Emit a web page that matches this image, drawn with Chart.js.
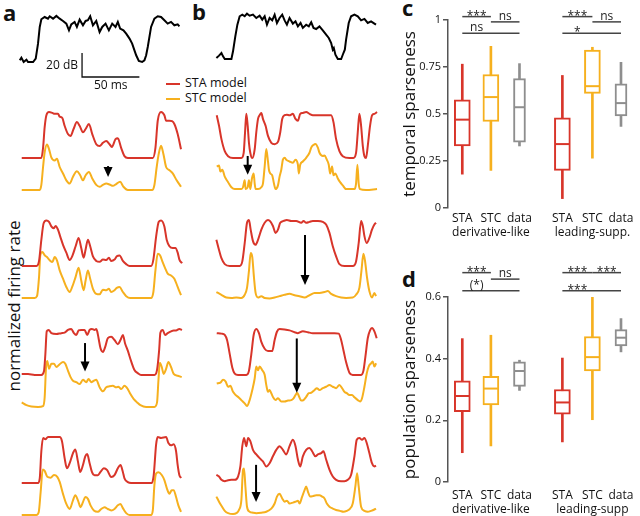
<!DOCTYPE html>
<html>
<head>
<meta charset="utf-8">
<script src="https://cdn.jsdelivr.net/npm/chart.js@4.4.1/dist/chart.umd.min.js"></script>
<style>
  body { margin: 0; background: #fff; }
  #fig { position: relative; width: 640px; height: 516px; overflow: hidden; font-family: 'Open Sans', sans-serif; color: #111; }
  #fig canvas { position: absolute; }
  .panel { position: absolute; font-weight: bold; font-size: 22px; line-height: 1; }
  .leg { position: absolute; font-size: 12.5px; line-height: 14px; }
  .leg span { display: inline-block; width: 14px; height: 2px; vertical-align: middle; margin-right: 5px; }
  .ylab { position: absolute; width: 200px; height: 24px; line-height: 24px; text-align: center; font-size: 17px; transform: rotate(-90deg); }
</style>
</head>
<body>
<div id="fig">
  <div class="panel" style="left:3px;top:1px">a</div>
  <div class="panel" style="left:192px;top:0px">b</div>
  <div class="panel" style="left:402px;top:-4px">c</div>
  <div class="panel" style="left:402px;top:267px">d</div>
  <div class="leg" style="left:166px;top:76px"><span style="background:#d8352a"></span>STA model</div>
  <div class="leg" style="left:166px;top:91px"><span style="background:#f6b01e"></span>STC model</div>
  <div class="ylab" style="left:-86px;top:294px">normalized firing rate</div>
</div>
<script>
// stimulus envelopes, [time ms, level dB]
const stimA = [[-1.7,1.4],[-0.3,3.6],[1.7,0],[4.1,1.9],[5.5,0],[9.9,0],[12.2,2.8],[14.2,15.3],[15.7,29.2],[17.1,35.6],[20,37.5],[22.9,36.1],[24.4,38.1],[27.3,36.1],[30.2,38.4],[33.1,36.1],[36,34.2],[38.9,32],[41.2,26.4],[43.2,31.4],[46.1,33.4],[48.1,29.2],[50.5,35.3],[53.4,30.6],[55.7,34.2],[57.7,34.8],[59.7,38.1],[62.1,30.6],[65,34.2],[67.9,25],[70.2,29.2],[73.1,32],[76,26.4],[78.9,32],[81.8,29.2],[83.8,33.4],[85.8,27.8],[88.7,26.4],[91.1,23.6],[94,19.5],[96.3,15.3],[98.3,9.7],[99.8,5.6],[102.1,0.8],[105,0],[107,1.4],[108.5,5.6],[109.9,12.5],[112.8,29.2],[115.7,36.1],[118.6,38.1],[121.5,37.5],[124.4,34.8],[127.3,32],[130.2,33.4],[133.1,30.6],[136,31.4],[137.5,29.7]];
const stimB = [[-0.3,0.8],[2,2.8],[4.1,5],[5.5,2.2],[7,0],[12.8,0],[14.2,6.4],[16.2,18.9],[18,28.6],[20,35.6],[22.3,37],[24.4,35.6],[26.4,37.8],[28.7,36.1],[31.6,37],[34.5,34.2],[37.4,36.1],[39.7,32.8],[41.8,35.6],[43.8,28.6],[46.1,34.2],[48.4,32.2],[50.5,36.9],[52.5,30],[54.8,34.2],[57.1,36.9],[59.2,32.2],[61.2,28.6],[63.5,34.2],[66.4,29.5],[68.7,31.4],[70.8,27.2],[73.1,30],[75.1,25.9],[78,28.6],[80.3,27.2],[82.4,30.6],[84.4,25.9],[86.7,25],[89.6,27.2],[92.5,23.9],[95.4,20.3],[97.7,17.5],[99.8,13.3],[101.2,7.8],[102.1,9.2],[103.5,3.6],[105.6,0],[108.5,0],[110.5,5],[111.7,7.8],[112.8,16.1],[115.1,30],[117.2,35.6],[120.1,37],[123,35.6],[125.9,32.2],[128.8,33.4],[131.7,30],[134.6,31.4],[137.5,29.5],[138.9,28.6]];
const scaleBar = { ms: 50, db: 20, at: [52.6, -12.5] };

// normalized firing rates, [time ms, rate]; panel a
const aSta1 = [[0,0],[17.1,0],[18.6,0.22],[20,0.67],[21.5,0.93],[23.8,1],[26.7,0.98],[28.7,0.96],[31.6,0.96],[33.1,0.9],[35.4,0.87],[37.4,0.7],[40.3,0.52],[42.6,0.48],[45.2,0.63],[48.1,0.78],[50.5,0.7],[53.4,0.56],[55.7,0.63],[58.6,0.74],[61.5,0.52],[65,0.3],[67.9,0.26],[70.8,0.33],[73.7,0.37],[76.6,0.3],[78.6,0.24],[81.8,0.41],[83.8,0.43],[86.7,0.22],[89.6,0.04],[92.5,0],[114.3,0],[116.6,0.22],[118.6,0.81],[121.5,1],[124.4,0.93],[125.9,0.81],[128.8,0.81],[131.1,0.8],[133.1,0.74],[136,0.52],[138.9,0.19]];
const aStc1 = [[0,0],[15.7,0],[17.1,0.11],[18.6,0.5],[20,0.82],[22,0.99],[23.8,0.89],[25.8,0.71],[28.7,0.64],[30.7,0.68],[33.1,0.5],[36,0.36],[38.9,0.21],[41.8,0.14],[44.7,0.29],[48.1,0.41],[51,0.32],[53.4,0.21],[55.7,0.32],[58.6,0.39],[61.5,0.25],[65,0.11],[67.9,0.07],[70.8,0.11],[73.7,0.14],[76.6,0.12],[79.5,0.09],[82.4,0.13],[85.8,0.18],[88.7,0.07],[92.5,0],[113.7,0],[115.7,0.11],[117.7,0.5],[119.5,0.79],[121.5,0.96],[123.5,0.79],[125.9,0.5],[128.8,0.43],[131.7,0.36],[135.1,0.21],[138.9,0.07]];
const aSta2 = [[0,0],[12.8,0],[15.1,0.11],[17.1,0.57],[19.1,0.93],[21.5,0.99],[23.8,0.96],[25.8,0.86],[27.8,0.82],[29.6,0.87],[31.6,0.79],[33.6,0.64],[36,0.46],[38.9,0.29],[41.8,0.13],[44,0.21],[47,0.43],[49.6,0.61],[51.9,0.39],[54,0.18],[55.7,0.36],[57.7,0.57],[59.7,0.43],[62.1,0.21],[65,0.11],[67.9,0.09],[70.8,0.14],[73.7,0.13],[76,0.18],[78,0.11],[80.9,0.14],[82.9,0.21],[85.3,0.23],[88.2,0.11],[91.1,0.04],[94,0],[112.8,0],[114.8,0.14],[117.2,0.64],[119.5,0.96],[121.5,0.99],[124.4,0.86],[126.4,0.57],[128.8,0.43],[131.7,0.39],[134,0.39],[136,0.29],[137.5,0.14],[139.8,0.06]];
const aStc2 = [[0,0],[11.3,0],[13.3,0.04],[15.1,0.46],[16.2,0.93],[18,1],[20,0.93],[22,0.89],[24.4,0.82],[26.7,0.78],[28.7,0.89],[30.7,0.82],[33.1,0.6],[36,0.42],[38.9,0.24],[41.8,0.13],[44,0.24],[47,0.46],[49.6,0.66],[51.9,0.38],[54,0.17],[55.7,0.38],[57.7,0.6],[59.7,0.42],[62.1,0.2],[65,0.09],[67.9,0.08],[70.8,0.18],[73.7,0.17],[76,0.2],[78,0.13],[80.9,0.17],[82.9,0.22],[85.3,0.24],[88.2,0.13],[91.1,0.04],[94.5,0],[112.8,0],[114.8,0.13],[116.6,0.6],[118.6,0.96],[120.6,0.93],[122.9,0.78],[125.2,0.64],[127.3,0.53],[130.2,0.49],[133.1,0.42],[136,0.24],[138.9,0.06]];
const aSta3 = [[0,0.02],[5.5,0.02],[11.3,0],[17.1,0],[19.4,0.08],[20.6,0.45],[21.8,0.95],[23.5,0.98],[25.8,0.91],[30.2,0.89],[34.5,0.91],[37.4,0.92],[40.3,0.98],[43.2,1],[45.5,0.91],[47.6,0.87],[49.6,0.97],[51.9,0.98],[54.8,0.98],[57.1,0.87],[59.2,0.98],[61.2,1],[63.5,0.98],[65,1],[65.8,0.95],[67,0.8],[68.7,0.58],[70.8,0.5],[72.8,0.61],[75.1,0.8],[78,0.83],[80.9,0.76],[83.8,0.67],[86.1,0.76],[88.2,0.87],[90.2,0.68],[92.5,0.53],[95.4,0.3],[98.3,0.11],[101.2,0.04],[104.1,0],[115.7,0],[118,0.11],[119.8,0.53],[120.9,0.92],[123,0.98],[125,0.87],[127.3,0.91],[130.2,0.95],[132.5,0.97],[134.6,0.97],[137.5,1],[139.8,0.98]];
const aStc3 = [[0,0.1],[4.1,0.04],[8.4,0.01],[14.2,0],[18.6,0.02],[20,0.21],[21.2,0.87],[22.3,1],[23.8,0.83],[25.8,0.94],[28.1,0.94],[30.2,0.87],[33.1,0.93],[36,0.98],[38,0.94],[40.3,0.79],[42.6,0.65],[44.7,0.57],[47.6,0.54],[50.5,0.5],[53.4,0.59],[56.3,0.54],[58.3,0.61],[60.6,0.54],[62.9,0.57],[65,0.59],[67.9,0.43],[70.8,0.34],[73.7,0.43],[76.6,0.45],[79.5,0.46],[82.4,0.43],[84.4,0.44],[86.7,0.39],[89.6,0.46],[92.5,0.39],[94.8,0.28],[97.7,0.17],[100.6,0.1],[103.5,0.04],[108.5,0],[115.7,0],[118,0.1],[119.2,0.57],[120.4,0.96],[122.1,0.87],[123.8,0.72],[125.9,0.83],[127.9,0.98],[130.2,0.87],[132.5,0.72],[136,0.68],[139.5,0.65]];
const aSta4 = [[0,0],[14.2,0],[15.7,0.1],[17.1,0.69],[18.6,0.98],[20.6,0.95],[22.9,1],[27.3,1],[33.1,1],[35.1,0.91],[37.4,0.54],[39.4,0.32],[41.8,0.43],[44.7,0.65],[46.7,0.73],[49,0.47],[51,0.24],[53.4,0.39],[55.4,0.58],[57.1,0.63],[59.2,0.43],[61.2,0.24],[63.5,0.17],[66.4,0.17],[68.7,0.24],[71.6,0.32],[74.5,0.28],[78,0.13],[80.9,0.17],[83.8,0.32],[86.1,0.39],[88.2,0.24],[89.6,0.1],[92.5,0.02],[95.4,0],[113.4,0],[115.1,0.17],[117.2,0.84],[118.6,1],[121.5,0.98],[125.9,1],[127.9,0.87],[130.2,0.82],[132.5,0.84],[134.6,0.69],[136,0.39],[137.5,0.17],[139,0.11]];
const aStc4 = [[0,0],[12.8,0],[14.8,0.06],[16.5,0.5],[18.3,0.99],[20,0.96],[22.3,0.83],[25.2,0.81],[28.1,0.87],[31,0.83],[33.1,0.72],[36,0.46],[38.9,0.24],[41.8,0.13],[44.7,0.32],[46.7,0.43],[49,0.32],[51.3,0.17],[53.4,0.28],[55.4,0.39],[57.7,0.35],[60,0.21],[62.9,0.1],[66.4,0.07],[69.3,0.13],[72.2,0.17],[75.1,0.13],[78,0.1],[80.9,0.13],[83.8,0.21],[86.1,0.24],[88.2,0.15],[91.1,0.04],[94,0],[112.8,0],[114.3,0.1],[115.7,0.65],[117.2,0.9],[119.2,0.93],[122.1,0.87],[124.4,0.76],[126.7,0.57],[128.8,0.46],[130.8,0.54],[132.5,0.54],[134.6,0.39],[136.6,0.21],[138.9,0.07]];

// panel b
const bSta1 = [[0,0.93],[2,0.7],[4.1,0.41],[7,0.15],[9.9,0.04],[14.2,0],[21.5,0],[23.5,0.11],[24.7,0.56],[25.8,0.96],[27,0.7],[28.1,0.33],[29.3,0.11],[31,0],[33.1,0.19],[34.5,0.56],[36,0.85],[37.4,0.93],[38.9,0.98],[40.3,0.85],[42.6,0.7],[44.7,0.48],[47.6,0.33],[50.5,0.3],[53.4,0.35],[55.4,0.56],[57.1,0.85],[59.2,0.93],[61.2,0.94],[63.5,0.93],[66.4,0.96],[68.7,0.85],[70.8,0.81],[72.8,0.96],[75.1,0.98],[78,1],[80.9,0.96],[83.8,0.93],[89.6,0.93],[95.4,0.93],[99.8,0.93],[101.8,0.78],[104.1,0.41],[107,0.15],[109.9,0.04],[115.7,0],[119.2,0],[121.5,0.11],[123,0.56],[124.4,0.96],[125.9,0.7],[127.4,0.26],[128.8,0.04],[130.2,0],[131.7,0.26],[133.7,0.7],[135.5,0.93],[137.5,0.96],[139.8,1]];
const bStc1 = [[0,0.51],[2,0.53],[3.2,0.4],[4.9,0.44],[7,0.29],[9.9,0.17],[12.8,0.06],[15.7,0.02],[21.5,0.02],[22.9,0.06],[24.4,0.21],[25.2,0.02],[27,0.06],[28.1,0.21],[29.3,0.02],[30.7,0.25],[32.2,0.36],[33.1,0.14],[33.9,0.02],[36,0.02],[38.9,0.06],[40.3,0.14],[41.8,0.51],[43.2,0.89],[44.7,0.62],[45.5,0.44],[46.7,0.36],[48.4,0.32],[49.9,0.14],[51.3,0.02],[53.4,0.1],[54.8,0.29],[56.3,0.44],[57.7,0.66],[59.2,0.7],[60.6,0.66],[63.5,0.62],[66.4,0.59],[68.7,0.66],[70.8,0.55],[71.6,0.36],[72.8,0.55],[75.1,0.62],[78,0.7],[80.9,0.81],[82.4,0.92],[84.4,0.98],[86.1,1],[88.2,0.92],[89.6,0.81],[92.5,0.74],[94,0.75],[96,0.66],[97.7,0.55],[98.9,0.36],[100.6,0.51],[101.8,0.32],[103.5,0.36],[105.6,0.25],[107.6,0.17],[109.9,0.1],[112.8,0.02],[120.1,0.02],[121.5,0.14],[122.7,0.55],[123.8,0.14],[125,0.02],[130.2,0],[139.8,0.02]];
const bSta2 = [[-0.3,0.57],[2,0.35],[4.1,0.17],[7,0.04],[11.3,0],[20,0],[22.3,0.1],[24.4,0.5],[26.4,0.94],[28.1,1],[29.6,0.79],[31.6,0.54],[33.9,0.46],[36,0.57],[38.9,0.79],[41.8,0.94],[44.7,1],[46.7,0.97],[49,0.87],[51.3,0.72],[53.4,0.79],[55.4,0.94],[58.3,0.98],[61.2,1],[65,0.98],[69.3,0.98],[73.7,0.94],[75.7,0.98],[78,0.94],[80.9,0.96],[83.8,0.98],[88.2,0.98],[92.5,0.96],[95.4,0.9],[98.3,0.72],[101.2,0.43],[104.1,0.21],[107,0.04],[111.4,0],[118.6,0],[121.5,0.1],[123.8,0.5],[125.9,0.98],[127.4,0.87],[128.8,0.65],[130.8,0.5],[133.1,0.61],[135.4,0.79],[137.5,0.9],[138.9,0.94]];
const bStc2 = [[-0.3,0.13],[4.1,0.07],[8.4,0.01],[12.8,0],[17.1,0.01],[21.5,0],[24.4,0.07],[26.4,0.22],[28.1,0.59],[29.6,0.98],[31,0.89],[32.5,0.44],[33.9,0.11],[36,0.01],[38.9,0.04],[41.8,0],[46.1,-0.01],[50.5,0.01],[54.8,0.04],[59.2,0.07],[63.5,0.09],[67.9,0.06],[72.2,0.04],[76.6,0.01],[80.9,0.06],[85.3,0.11],[89.6,0.11],[94,0.13],[96.9,0.15],[99.8,0.09],[104.1,0.04],[108.5,0.01],[112.8,0],[118.6,0.01],[121.5,0.07],[124.4,0.22],[126.2,0.59],[127.9,0.96],[129.3,0.81],[131.1,0.44],[133.1,0.15],[135.4,0.01],[137.5,0.11],[138.9,0.04]];
const bSta3 = [[0,0.91],[4.1,0.9],[7,0.87],[9,0.76],[11.3,0.46],[13.6,0.16],[15.7,0.03],[18.6,0],[25.8,0],[28.1,0.09],[30.2,0.46],[32.2,0.87],[34.5,1],[36.8,0.91],[38.9,0.72],[41.8,0.57],[44.7,0.52],[48.4,0.52],[50.5,0.76],[52.5,0.94],[54.8,1],[59.2,0.99],[63.5,0.97],[67.9,0.93],[70.8,0.91],[75.1,0.95],[79.5,0.93],[83.8,0.91],[89.6,0.91],[95.4,0.91],[102.7,0.91],[106.4,0.9],[108.5,0.76],[110.5,0.54],[112.8,0.28],[115.7,0.05],[118.6,0],[125.9,0],[127.9,0.09],[129.6,0.39],[131.7,0.8],[133.7,0.97],[135.4,1.02],[137.5,0.95],[139.5,0.8]];
const bStc3 = [[0,0.51],[3.2,0.53],[5.5,0.59],[7.8,0.55],[9.9,0.44],[11.9,0.46],[14.2,0.33],[16.5,0.26],[18.6,0.22],[21.5,0.15],[24.4,0.08],[26.4,0.02],[28.7,0.15],[31,0.37],[33.1,0.62],[34.5,0.88],[36,0.8],[37.4,0.88],[39.7,0.8],[41.8,0.7],[43.2,0.48],[44.7,0.33],[46.1,0.37],[47.6,0.3],[49,0.22],[51.3,0.15],[53.4,0.19],[56.3,0.12],[59.2,0.12],[62.1,0.14],[65,0.15],[67,0.19],[68.7,0.26],[70.2,0.31],[71.6,0.24],[73.7,0.14],[75.7,0.15],[78,0.22],[80.3,0.3],[82.4,0.31],[85.3,0.37],[87.3,0.41],[89.6,0.37],[92.5,0.41],[95.4,0.44],[98.3,0.48],[101.2,0.44],[104.1,0.41],[107,0.48],[109.3,0.41],[111.4,0.33],[113.4,0.3],[115.7,0.26],[118,0.26],[120.1,0.21],[123,0.15],[125,0.12],[126.7,0.19],[128.8,0.44],[130.8,0.73],[132.5,0.88],[134.6,0.95],[136,0.99],[137.5,0.88],[139,0.95]];
const bSta4 = [[-0.3,0.18],[2,0.14],[4.1,0.07],[7,0.04],[9.9,0.06],[12.8,0.07],[15.7,0.07],[18.6,0.14],[20.6,0.36],[22.3,0.8],[23.8,0.98],[25.8,0.8],[27.3,0.98],[29.3,0.91],[31.6,0.72],[34.5,0.62],[37.4,0.54],[40.3,0.47],[43.2,0.36],[46.1,0.43],[49,0.58],[51.9,0.72],[54.8,0.8],[57.7,0.72],[60.6,0.62],[63.5,0.8],[66.4,0.94],[68.7,0.8],[70.8,0.51],[72.8,0.36],[75.1,0.58],[78,0.72],[80.9,0.76],[83.2,0.69],[86.1,0.58],[88.2,0.62],[91.1,0.65],[93.1,0.69],[95.4,0.51],[98.3,0.29],[101.2,0.14],[104.1,0.07],[108.5,0.04],[111.4,0.04],[114.3,0.07],[117.2,0.18],[120.1,0.58],[122.1,0.94],[124.4,0.98],[126.7,0.94],[128.8,0.98],[130.8,0.87],[133.1,0.65],[135.4,0.43],[137.5,0.36],[138.9,0.38]];
const bStc4 = [[-0.3,0.4],[2,0.29],[4.1,0.2],[7,0.09],[9.9,0.04],[14.2,0.02],[17.1,0.04],[19.4,0.11],[21.5,0.33],[22.9,0.98],[23.8,1.01],[25,0.62],[26.4,0.18],[28.7,0.07],[31.6,0.05],[34.5,0.04],[38.9,0.05],[43.2,0.07],[47.6,0.14],[50.5,0.25],[52.5,0.4],[54.8,0.46],[57.1,0.36],[59.2,0.29],[61.2,0.31],[63.5,0.25],[66.4,0.27],[68.7,0.29],[70.8,0.31],[72.2,0.25],[74.5,0.4],[76.6,0.54],[78,0.62],[79.5,0.51],[81.5,0.4],[83.8,0.41],[86.7,0.43],[89.6,0.43],[91.9,0.4],[94,0.36],[96,0.25],[98.3,0.18],[101.2,0.14],[104.1,0.11],[107.6,0.09],[110.5,0.07],[113.4,0.09],[116.3,0.14],[118.6,0.25],[120.9,0.62],[122.4,0.91],[123.8,0.62],[125.9,0.18],[128.8,0.09],[131.7,0.07],[134.6,0.09],[137.5,0.12],[138.9,0.14]];

// arrows: [time ms, tail, tip] in STC rate units
const aArrows = [[75.3, 0.52, 0.28], null, [55.2, 1.39, 0.77], null];
const bArrows = [[27.0, 0.74, 0.33], [77, 1.37, 0.28], [69.8, 1.49, 0.31], [34.3, 1.09, 0.28]];

// box plots: [whisker low, q1, median, q3, whisker high] for derivative-like, leading-supp.
const groups = ['derivative-like', 'leading-supp.'];
const groupsD = ['derivative-like', 'leading-supp'];
const models = ['STA', 'STC', 'data'];
const tempSTA = [[0.18, 0.33, 0.47, 0.575, 0.765], [0.05, 0.2, 0.34, 0.48, 0.705]];
const tempSTC = [[0.2, 0.46, 0.59, 0.71, 0.86], [0.265, 0.61, 0.648, 0.84, 0.855]];
const tempData = [[0.33, 0.35, 0.536, 0.688, 0.768], [0.434, 0.49, 0.558, 0.66, 0.775]];
const popSTA = [[0.095, 0.228, 0.279, 0.328, 0.465], [0.13, 0.22, 0.258, 0.3, 0.402]];
const popSTC = [[0.117, 0.25, 0.303, 0.343, 0.476], [0.202, 0.36, 0.405, 0.472, 0.6]];
const popData = [[0.297, 0.31, 0.36, 0.39, 0.395], [0.422, 0.441, 0.468, 0.494, 0.53]];

// significance: pairs of models compared, label per group
const sigPairs = [[0, 1], [1, 2], [0, 2]];
const sigTemp = [['***', 'ns', 'ns'], ['***', 'ns', '*']];
const sigPop = [['***', 'ns', '(*)'], ['***', '***', '***']];
const sigTempLevels = [[1.018, 0.99, 0.93], [1.018, 0.99, 0.93]];
const sigPopLevels = [[0.679, 0.658, 0.62], [0.679, 0.679, 0.62]];

const RED = '#d8352a', YELLOW = '#f6b01e', GRAY = '#8e8e8e';
const FONT = "'Open Sans', sans-serif";
Chart.defaults.font.family = FONT;
Chart.defaults.color = '#111';

const fig = document.getElementById('fig');
function addCanvas(left, top, w, h) {
    const c = document.createElement('canvas');
    c.width = w; c.height = h;
    c.style.left = left + 'px'; c.style.top = top + 'px';
    c.style.width = w + 'px'; c.style.height = h + 'px';
    fig.appendChild(c);
    return c;
}

const pts = arr => arr.map(p => ({x: p[0], y: p[1]}));

// axis range so that value 1 sits at pxOne and value 0 at pxZero
function unitRange(pxOne, pxZero, height) {
    const unit = pxZero - pxOne;
    const max = pxZero / unit;
    return {min: max - height / unit, max};
}

const arrowPlugin = {
    id: 'arrowMark',
    afterDatasetsDraw(chart, _args, opts) {
        if (!opts.at) return;
        const {ctx, scales} = chart;
        const x = scales.x.getPixelForValue(opts.at[0]);
        const y0 = scales.yStc.getPixelForValue(opts.at[1]);
        const y1 = scales.yStc.getPixelForValue(opts.at[2]);
        ctx.save();
        ctx.strokeStyle = '#000';
        ctx.fillStyle = '#000';
        ctx.lineWidth = 2;
        ctx.beginPath(); ctx.moveTo(x, y0); ctx.lineTo(x, y1 - 8); ctx.stroke();
        ctx.beginPath(); ctx.moveTo(x - 4.5, y1 - 10); ctx.lineTo(x + 4.5, y1 - 10); ctx.lineTo(x, y1); ctx.closePath(); ctx.fill();
        ctx.restore();
    }
};

const T_MIN = -5, T_MAX = 145, TRACE_W = 172, PAIR_H = 90;
const pairTops = [112, 220, 329, 437];

function pairChart(left, pairTop, sta, stc, arrow) {
    const el = addCanvas(left, pairTop - 6, TRACE_W, PAIR_H);
    return new Chart(el, {
        type: 'line',
        data: {
            datasets: [
                {data: pts(sta), borderColor: RED, yAxisID: 'ySta', clip: false},
                {data: pts(stc), borderColor: YELLOW, yAxisID: 'yStc', clip: false},
            ]
        },
        options: {
            responsive: false, animation: false, events: [],
            layout: {padding: 0},
            elements: {point: {radius: 0}, line: {borderWidth: 2, cubicInterpolationMode: 'monotone'}},
            scales: {
                x: {type: 'linear', min: T_MIN, max: T_MAX, display: false},
                ySta: {type: 'linear', display: false, ...unitRange(6, 52, PAIR_H)},
                yStc: {type: 'linear', display: false, ...unitRange(38, 84, PAIR_H)},
            },
            plugins: {legend: {display: false}, tooltip: {enabled: false}, arrowMark: {at: arrow}}
        },
        plugins: [arrowPlugin]
    });
}

const barLabelPlugin = {
    id: 'barLabels',
    afterDatasetsDraw(chart, _args, opts) {
        if (!opts.bar) return;
        const {ctx, scales} = chart;
        const b = opts.bar;
        const x0 = scales.x.getPixelForValue(b.at[0]);
        const y0 = scales.y.getPixelForValue(b.at[1]);
        ctx.save();
        ctx.fillStyle = '#111';
        ctx.font = '12px ' + FONT;
        ctx.textAlign = 'right'; ctx.textBaseline = 'middle';
        ctx.fillText(b.db + ' dB', x0 - 4, scales.y.getPixelForValue(b.at[1] + b.db / 2) + 1);
        ctx.textAlign = 'center'; ctx.textBaseline = 'top';
        ctx.fillText(b.ms + ' ms', scales.x.getPixelForValue(b.at[0] + b.ms / 2), y0 + 3);
        ctx.restore();
    }
};

function stimChart(left, top, stim, bar) {
    const el = addCanvas(left, top, TRACE_W, 90);
    const datasets = [{data: pts(stim), borderColor: '#000', borderWidth: 2, tension: 0}];
    if (bar) {
        datasets.push({
            data: pts([[bar.at[0], bar.at[1] + bar.db], bar.at, [bar.at[0] + bar.ms, bar.at[1]]]),
            borderColor: '#111', borderWidth: 1.3, tension: 0
        });
    }
    return new Chart(el, {
        type: 'line',
        data: {datasets},
        options: {
            responsive: false, animation: false, events: [],
            layout: {padding: 0},
            elements: {point: {radius: 0}},
            scales: {
                x: {type: 'linear', min: T_MIN, max: T_MAX, display: false},
                y: {type: 'linear', min: -30, max: 45, display: false},
            },
            plugins: {legend: {display: false}, tooltip: {enabled: false}, barLabels: {bar}}
        },
        plugins: [barLabelPlugin]
    });
}

stimChart(16, 8, stimA, scaleBar);
stimChart(211, 5, stimB, null);
[aSta1, aSta2, aSta3, aSta4].forEach((s, i) =>
    pairChart(16, pairTops[i], s, [aStc1, aStc2, aStc3, aStc4][i], aArrows[i]));
[bSta1, bSta2, bSta3, bSta4].forEach((s, i) =>
    pairChart(211, pairTops[i], s, [bStc1, bStc2, bStc3, bStc4][i], bArrows[i]));

// ---- box plots ----
const slots = [[1, 4.5], [2, 5.55], [3, 6.55]];
const boxColors = [RED, YELLOW, GRAY];
const boxWidths = [16, 16, 12];

const sigTextPlugin = {
    id: 'sigText',
    afterDatasetsDraw(chart, _args, opts) {
        const {ctx, scales} = chart;
        ctx.save();
        ctx.fillStyle = '#222';
        ctx.textAlign = 'center';
        ctx.font = '12px ' + FONT;
        ctx.textBaseline = 'alphabetic';
        opts.items.forEach(it => {
            const x = scales.x.getPixelForValue(it.x);
            const y = scales.y.getPixelForValue(it.y);
            const stars = it.text.indexOf('*') >= 0 && it.text.indexOf('(') < 0;
            ctx.fillText(it.text, x, stars ? y + 3 : y - 2);
        });
        ctx.restore();
    }
};

function boxChart(top, height, padTop, xHeight, yMax, step, title, values, sigLabels, sigLevels, groupNames, tickPad) {
    const el = addCanvas(360, top, 280, height);
    const datasets = [];
    values.forEach((vals, m) => {
        const color = boxColors[m];
        datasets.push({
            type: 'bar', order: 3, grouped: false, barThickness: 2,
            backgroundColor: color,
            data: vals.map((v, g) => ({x: slots[m][g], y: [v[0], v[4]]}))
        });
        datasets.push({
            type: 'bar', order: 2, grouped: false, barThickness: boxWidths[m],
            backgroundColor: '#fff', borderColor: color, borderWidth: 2, borderSkipped: false,
            data: vals.map((v, g) => ({x: slots[m][g], y: [v[1], v[3]]}))
        });
        datasets.push({
            type: 'line', order: 1, showLine: false,
            pointStyle: 'line', pointRadius: boxWidths[m] / 2 - 1, pointBorderWidth: 2,
            borderColor: color, pointBorderColor: color,
            data: vals.map((v, g) => ({x: slots[m][g], y: v[2]}))
        });
    });
    const items = [];
    sigLabels.forEach((labels, g) => {
        sigPairs.forEach((pair, k) => {
            const lv = sigLevels[g][k];
            datasets.push({
                type: 'line', order: 0, clip: false, borderColor: '#444', borderWidth: 1.5,
                pointRadius: 0, tension: 0,
                data: [{x: slots[pair[0]][g], y: lv}, {x: slots[pair[1]][g], y: lv}]
            });
            items.push({x: (slots[pair[0]][g] + slots[pair[0] + 1][g]) / 2, y: lv, text: labels[k]});
        });
    });
    return new Chart(el, {
        type: 'bar',
        data: {datasets},
        options: {
            responsive: false, animation: false, events: [],
            layout: {padding: {top: padTop, right: 0, bottom: 0, left: 0}},
            scales: {
                x: {
                    type: 'linear', min: 0.5, max: 6.9, offset: false,
                    grid: {display: false, drawTicks: false, offset: false},
                    border: {display: false},
                    afterBuildTicks: s => { s.ticks = slots.flat().sort((a, b) => a - b).map(v => ({value: v})); },
                    afterFit: s => { s.height = xHeight; },
                    ticks: {
                        autoSkip: false, maxRotation: 0, padding: tickPad,
                        font: {size: 12}, color: '#111',
                        callback: v => {
                            for (let m = 0; m < 3; m++) {
                                const g = slots[m].indexOf(v);
                                if (g >= 0) return m === 1 ? [models[m], groupNames[g]] : [models[m]];
                            }
                            return '';
                        }
                    }
                },
                y: {
                    type: 'linear', min: 0, max: yMax,
                    afterFit: s => { s.width = 88; },
                    grid: {drawOnChartArea: false, drawTicks: true, tickLength: 5, color: '#555', lineWidth: 1.5},
                    border: {display: true, color: '#555', width: 1.5},
                    ticks: {stepSize: step, padding: 2, font: {size: 11}, color: '#111',
                            callback: v => String(+v.toFixed(2))},
                    title: {display: true, text: title, font: {size: 17}, color: '#111', padding: {top: 40, bottom: 0}}
                }
            },
            plugins: {legend: {display: false}, tooltip: {enabled: false}, sigText: {items}}
        },
        plugins: [sigTextPlugin]
    });
}

boxChart(0, 245, 20, 37, 1, 0.25, 'temporal sparseness',
    [tempSTA, tempSTC, tempData], sigTemp, sigTempLevels, groups, 3);
boxChart(250, 266, 47, 34, 0.6, 0.2, 'population sparseness',
    [popSTA, popSTC, popData], sigPop, sigPopLevels, groupsD, 6);
</script>
</body>
</html>
